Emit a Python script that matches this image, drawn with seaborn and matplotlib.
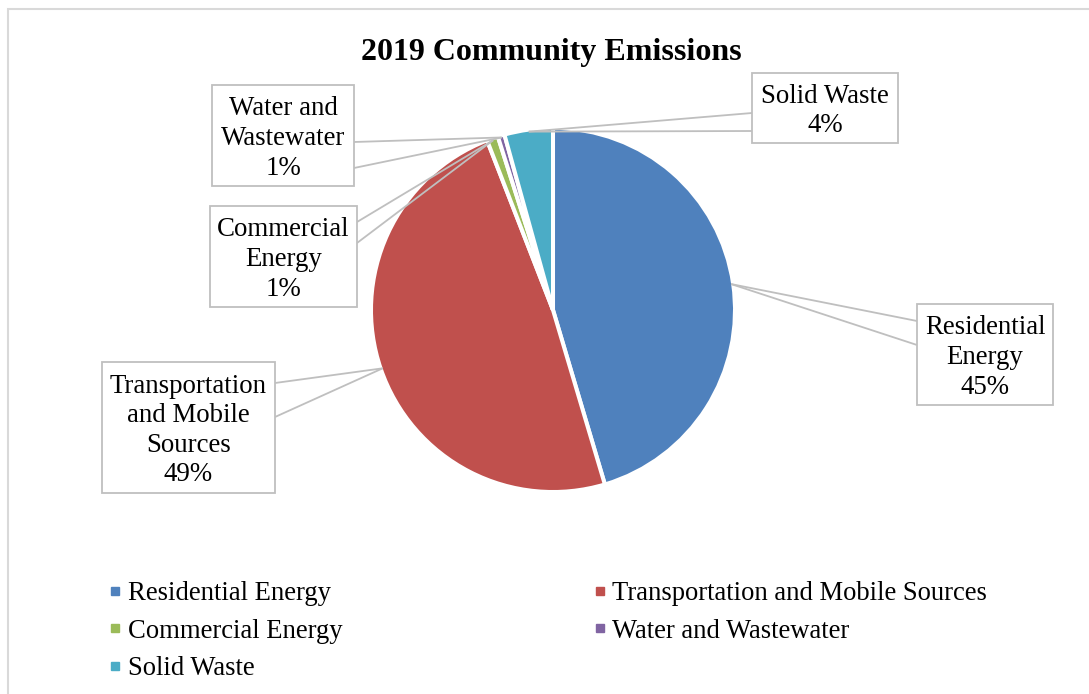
import matplotlib
matplotlib.use("Agg")
import matplotlib.pyplot as plt
from matplotlib.lines import Line2D
from matplotlib.patches import Rectangle
import numpy as np
import seaborn as sns

# Emission shares by sector (percent of community total)
categories = ["Residential Energy", "Transportation and Mobile Sources",
              "Commercial Energy", "Water and Wastewater", "Solid Waste"]
label_names = ["Residential\nEnergy", "Transportation\nand Mobile\nSources",
               "Commercial\nEnergy", "Water and\nWastewater", "Solid Waste"]
shares = [45.4, 48.7, 1.0, 0.6, 4.3]
colors = ["#4F81BD", "#C0504D", "#9BBB59", "#8064A2", "#4BACC6"]
title = "2019 Community Emissions"

sns.set_theme(style="white")
plt.rcParams["font.family"] = ["Liberation Serif", "DejaVu Serif"]
plt.rcParams["text.color"] = "black"

W, H = 1089, 694
fig = plt.figure(figsize=(W / 100, H / 100), dpi=100)
ax = fig.add_axes([0, 0, 1, 1])

# pie geometry in pixels (centre and visible radius)
CX, CY, R = 553, 310, 180


def px(x, y):
    """Pixel position (from top-left) to data units of the pie axes."""
    return (x - CX) / R, (CY - y) / R


edge_w = 2.9
wedges, _ = ax.pie(shares, colors=colors, startangle=90, counterclock=False,
                   radius=1 + (edge_w / 72 * 100) / 2 / R,
                   wedgeprops=dict(edgecolor="white", linewidth=edge_w))
ax.set_xlim(-CX / R, (W - CX) / R)
ax.set_ylim(-(H - CY) / R, CY / R)
ax.set_axis_off()

# callout boxes: (left, top, right, bottom) and two attach points on the box edge
boxes = [
    ((917, 304, 1053, 405), [(917, 321), (917, 345)]),
    ((102, 362, 275, 493), [(275, 383), (275, 417)]),
    ((210, 206, 357, 307), [(357, 222), (357, 243)]),
    ((212, 85, 354, 186), [(354, 142), (354, 168)]),
    ((752, 73, 898, 143), [(752, 113), (752, 131)]),
]

total = sum(shares)
line_col = "#BFBFBF"
cum = 0.0
for val, name, (rect, attach) in zip(shares, label_names, boxes):
    mid = cum + val / 2
    cum += val
    ang = np.deg2rad(90 - mid / total * 360)
    apex = (np.cos(ang), np.sin(ang))
    for ax_pt in attach:
        p = px(*ax_pt)
        ax.plot([p[0], apex[0]], [p[1], apex[1]], color=line_col, lw=1.3,
                solid_capstyle="butt", zorder=3)
    l, t, r, b = rect
    x0, y0 = px(l, b)
    x1, y1 = px(r, t)
    ax.add_patch(Rectangle((x0, y0), x1 - x0, y1 - y0, facecolor="white",
                           edgecolor=line_col, lw=1.3, zorder=4))
    pct = int(val / total * 100 + 0.5)
    ax.text((x0 + x1) / 2, (y0 + y1) / 2 - 3 / R, f"{name}\n{pct}%", ha="center",
            va="center", fontsize=19.4, color="black", linespacing=1.24, zorder=5)

fig.text(551.5 / W, 1 - 60 / H, title, ha="center", va="baseline",
         fontsize=23, fontweight="bold", color="black")

# outer chart frame
fig.add_artist(Rectangle((7.5 / W, -0.1), 1.2, 1 - 8.5 / H + 0.1,
                         transform=fig.transFigure, fill=False,
                         edgecolor="#D9D9D9", lw=1.5))


def handle(c):
    return Line2D([], [], linestyle="none", marker="s", markersize=5.5,
                  markerfacecolor=c, markeredgecolor=c)


order_cols = [[0, 2, 4], [1, 3]]
anchors = [108.75, 593]
for idx, x0 in zip(order_cols, anchors):
    fig.legend([handle(colors[i]) for i in idx], [categories[i] for i in idx],
               loc="upper left", bbox_to_anchor=(x0 / W, 1 - 581 / H),
               frameon=False, fontsize=19.2, handlelength=0.5,
               handletextpad=0.22, borderpad=0, borderaxespad=0,
               labelspacing=0.47, labelcolor="black")

fig.savefig("out.png", dpi=100)
